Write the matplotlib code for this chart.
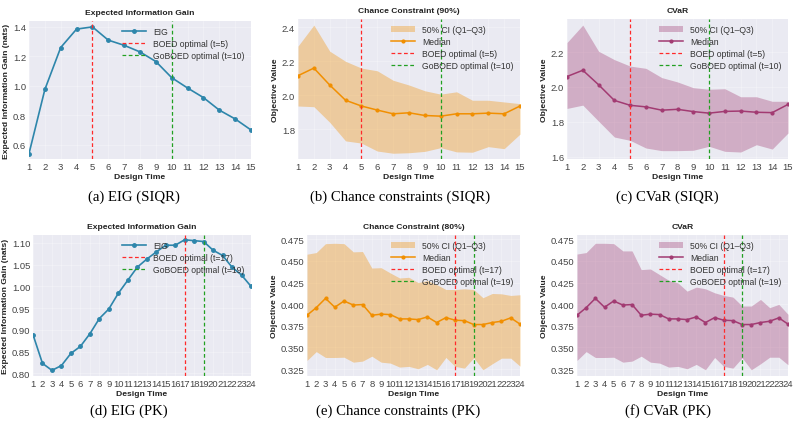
import numpy as np
import matplotlib
matplotlib.use("Agg")
import matplotlib.pyplot as plt
from matplotlib.ticker import FormatStrFormatter

# ---------------- data ----------------
t_siqr = list(range(1, 16))
t_pk = list(range(1, 25))

eig_siqr = [0.54, 0.975, 1.26, 1.385, 1.40, 1.31, 1.275, 1.23, 1.165, 1.055,
            0.985, 0.92, 0.835, 0.775, 0.70]

cc_siqr_med = [2.115, 2.160, 2.060, 1.970, 1.936, 1.912, 1.890, 1.896, 1.880, 1.876,
               1.890, 1.890, 1.894, 1.890, 1.936]
cc_siqr_q3 = [2.290, 2.414, 2.260, 2.200, 2.160, 2.144, 2.088, 2.060, 2.026, 2.006,
              2.020, 1.970, 1.970, 1.960, 1.950]
cc_siqr_q1 = [1.936, 1.932, 1.840, 1.730, 1.717, 1.670, 1.657, 1.660, 1.668, 1.690,
              1.665, 1.663, 1.696, 1.684, 1.770]

cv_siqr_med = [2.060, 2.096, 2.013, 1.923, 1.895, 1.886, 1.867, 1.872, 1.859, 1.850,
               1.860, 1.862, 1.855, 1.853, 1.900]
cv_siqr_q3 = [2.255, 2.355, 2.205, 2.157, 2.120, 2.107, 2.054, 2.029, 1.996, 1.987,
              1.990, 1.944, 1.944, 1.918, 1.918]
cv_siqr_q1 = [1.877, 1.896, 1.804, 1.713, 1.694, 1.650, 1.635, 1.635, 1.637, 1.660,
              1.631, 1.627, 1.669, 1.644, 1.736]

eig_pk = [0.889, 0.823, 0.807, 0.818, 0.846, 0.862, 0.891, 0.926, 0.948, 0.984,
          1.014, 1.044, 1.0625, 1.079, 1.0945, 1.0945, 1.107, 1.105, 1.103, 1.083,
          1.071, 1.044, 1.026, 1.000]

pk_med = [0.3872, 0.3960, 0.4067, 0.3965, 0.4037, 0.3990, 0.3996, 0.3872, 0.3885, 0.3880,
          0.3830, 0.3830, 0.3822, 0.3853, 0.3788, 0.3845, 0.3815, 0.3810, 0.3765, 0.3765,
          0.3788, 0.3803, 0.3842, 0.3770]
cc_pk_q3 = [0.4578, 0.4597, 0.4700, 0.4704, 0.4700, 0.4605, 0.4609, 0.4418, 0.4422, 0.4361,
            0.4303, 0.4311, 0.4250, 0.4273, 0.4227, 0.4170, 0.4170, 0.4178, 0.4170, 0.4075,
            0.4124, 0.4120, 0.4101, 0.4109]
cc_pk_q1 = [0.3350, 0.3452, 0.3384, 0.3384, 0.3387, 0.3330, 0.3342, 0.3399, 0.3330, 0.3319,
            0.3273, 0.3281, 0.3254, 0.3304, 0.3242, 0.3384, 0.3281, 0.3261, 0.3380, 0.3242,
            0.3311, 0.3376, 0.3376, 0.3284]
cv_pk_q3 = [0.4580, 0.4597, 0.4704, 0.4704, 0.4700, 0.4616, 0.4616, 0.4400, 0.4407, 0.4342,
            0.4277, 0.4246, 0.4151, 0.4197, 0.4178, 0.4132, 0.4101, 0.4082, 0.3979, 0.3979,
            0.4055, 0.3960, 0.3998, 0.3883]
cv_pk_q1 = [0.3350, 0.3452, 0.3384, 0.3384, 0.3387, 0.3330, 0.3342, 0.3399, 0.3330, 0.3319,
            0.3273, 0.3281, 0.3254, 0.3304, 0.3242, 0.3384, 0.3281, 0.3261, 0.3380, 0.3242,
            0.3311, 0.3387, 0.3387, 0.3300]

boed_siqr, goboed_siqr = 5, 10
boed_pk, goboed_pk = 17, 19

captions = ["(a) EIG (SIQR)", "(b) Chance constraints (SIQR)", "(c) CVaR (SIQR)",
            "(d) EIG (PK)", "(e) Chance constraints (PK)", "(f) CVaR (PK)"]

# ---------------- style ----------------
plt.rcParams['font.family'] = ['Liberation Sans', 'DejaVu Sans']
BG = '#EAEAF2'
BLUE = '#2E86AB'
ORANGE = '#F18F01'
PURPLE = '#A23B72'
RED = '#FF2A2A'
GREEN = '#22A022'
FS_TICK = 6.8
FS_LAB = 6.1
FS_LEG = 6.2

fig = plt.figure(figsize=(8, 4.27), dpi=100)

H = 427.0
def ax_at(l, r, top, bottom):
    return fig.add_axes([l / 800, (H - bottom) / H, (r - l) / 800, (bottom - top) / H])

axes = [
    ax_at(29, 251, 22, 160),
    ax_at(298, 520, 20, 160),
    ax_at(567, 788, 20, 160),
    ax_at(33, 251, 236, 377),
    ax_at(307, 520, 236, 377),
    ax_at(577, 788, 236, 377),
]

def style(ax, title, ylabel, xs):
    ax.set_facecolor(BG)
    for s in ax.spines.values():
        s.set_visible(False)
    ax.grid(True, color='white', linewidth=0.4, alpha=0.45)
    ax.set_axisbelow(True)
    ax.set_title(title, fontsize=FS_LAB, fontweight='bold', pad=5, color='#222222')
    ax.set_xlabel('Design Time', fontsize=FS_LAB, fontweight='bold', labelpad=1.5, color='#222222')
    ax.set_ylabel(ylabel, fontsize=FS_LAB, fontweight='bold', labelpad=2, color='#222222')
    ax.set_xticks(xs)
    ax.set_xlim(xs[0], xs[-1])
    ax.tick_params(axis='both', labelsize=FS_TICK, length=0, pad=2, colors='#444444')

def vlines(ax, b, g):
    ax.axvline(b, color=RED, linestyle='--', linewidth=0.9, dashes=(3, 2), zorder=3,
               label=f'BOED optimal (t={b})')
    ax.axvline(g, color=GREEN, linestyle='--', linewidth=0.9, dashes=(3, 2), zorder=3,
               label=f'GoBOED optimal (t={g})')

def legend(ax):
    leg = ax.legend(loc='upper right', fontsize=FS_LEG, frameon=False, handlelength=2.8,
                    labelspacing=0.32, borderaxespad=0.35)
    for txt in leg.get_texts():
        txt.set_color('#333333')

# (a)
ax = axes[0]
style(ax, 'Expected Information Gain', 'Expected Information Gain (nats)', t_siqr)
ax.plot(t_siqr, eig_siqr, color=BLUE, marker='o', markersize=2.5, linewidth=1.2, label='EIG')
vlines(ax, boed_siqr, goboed_siqr)
ax.set_ylim(0.503, 1.44)
ax.set_yticks([0.6, 0.8, 1.0, 1.2, 1.4])
legend(ax)

# (b)
ax = axes[1]
style(ax, 'Chance Constraint (90%)', 'Objective Value', t_siqr)
ax.fill_between(t_siqr, cc_siqr_q1, cc_siqr_q3, color=ORANGE, alpha=0.35, linewidth=0,
                label='50% CI (Q1\u2013Q3)')
ax.plot(t_siqr, cc_siqr_med, color=ORANGE, marker='o', markersize=2, linewidth=1.1, label='Median')
vlines(ax, boed_siqr, goboed_siqr)
ax.set_ylim(1.623, 2.45)
ax.set_yticks([1.8, 2.0, 2.2, 2.4])
legend(ax)

# (c)
ax = axes[2]
style(ax, 'CVaR', 'Objective Value', t_siqr)
ax.fill_between(t_siqr, cv_siqr_q1, cv_siqr_q3, color=PURPLE, alpha=0.35, linewidth=0,
                label='50% CI (Q1\u2013Q3)')
ax.plot(t_siqr, cv_siqr_med, color=PURPLE, marker='o', markersize=2, linewidth=1.1, label='Median')
vlines(ax, boed_siqr, goboed_siqr)
ax.set_ylim(1.587, 2.39)
ax.set_yticks([1.6, 1.8, 2.0, 2.2])
legend(ax)

# (d)
ax = axes[3]
style(ax, 'Expected Information Gain', 'Expected Information Gain (nats)', t_pk)
ax.plot(t_pk, eig_pk, color=BLUE, marker='o', markersize=2.5, linewidth=1.2, label='EIG')
vlines(ax, boed_pk, goboed_pk)
ax.set_ylim(0.794, 1.118)
ax.set_yticks([0.80, 0.85, 0.90, 0.95, 1.00, 1.05, 1.10])
ax.yaxis.set_major_formatter(FormatStrFormatter('%.2f'))
legend(ax)

# (e)
ax = axes[4]
style(ax, 'Chance Constraint (80%)', 'Objective Value', t_pk)
ax.fill_between(t_pk, cc_pk_q1, cc_pk_q3, color=ORANGE, alpha=0.35, linewidth=0,
                label='50% CI (Q1\u2013Q3)')
ax.plot(t_pk, pk_med, color=ORANGE, marker='o', markersize=2, linewidth=1.1, label='Median')
vlines(ax, boed_pk, goboed_pk)
ax.set_ylim(0.317, 0.480)
ax.set_yticks([0.325, 0.350, 0.375, 0.400, 0.425, 0.450, 0.475])
ax.yaxis.set_major_formatter(FormatStrFormatter('%.3f'))
legend(ax)

# (f)
ax = axes[5]
style(ax, 'CVaR', 'Objective Value', t_pk)
ax.fill_between(t_pk, cv_pk_q1, cv_pk_q3, color=PURPLE, alpha=0.35, linewidth=0,
                label='50% CI (Q1\u2013Q3)')
ax.plot(t_pk, pk_med, color=PURPLE, marker='o', markersize=2, linewidth=1.1, label='Median')
vlines(ax, boed_pk, goboed_pk)
ax.set_ylim(0.317, 0.480)
ax.set_yticks([0.325, 0.350, 0.375, 0.400, 0.425, 0.450, 0.475])
ax.yaxis.set_major_formatter(FormatStrFormatter('%.3f'))
legend(ax)

# captions
cap_pos = [(134, 197), (400, 197), (667, 197), (129, 411), (398, 411), (668, 411)]
for (cx, cy), txt in zip(cap_pos, captions):
    fig.text(cx / 800, (H - cy) / H, txt, ha='center', va='center',
             fontsize=10.6, family=['Liberation Serif', 'DejaVu Serif'])

fig.savefig('out.png', dpi=100, facecolor='white')
